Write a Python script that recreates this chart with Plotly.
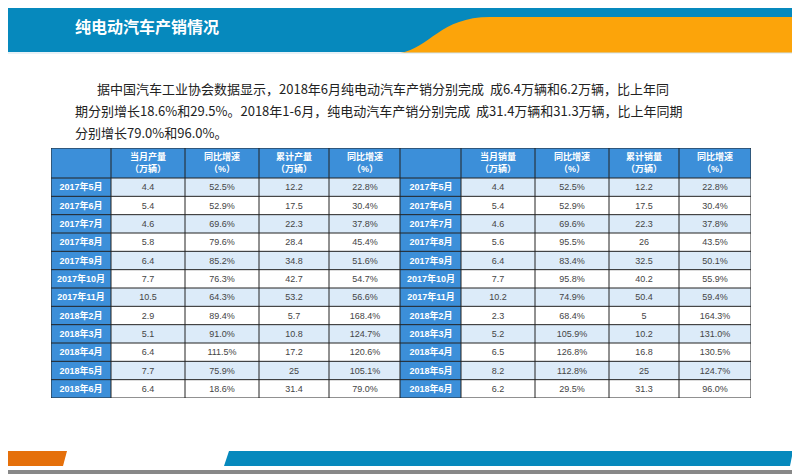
import plotly.graph_objects as go

# table data
months = ['2017年5月', '2017年6月', '2017年7月', '2017年8月', '2017年9月', '2017年10月', '2017年11月',
          '2018年2月', '2018年3月', '2018年4月', '2018年5月', '2018年6月']
prod_month = ['4.4', '5.4', '4.6', '5.8', '6.4', '7.7', '10.5', '2.9', '5.1', '6.4', '7.7', '6.4']
prod_month_yoy = ['52.5%', '52.9%', '69.6%', '79.6%', '85.2%', '76.3%', '64.3%', '89.4%', '91.0%', '111.5%', '75.9%', '18.6%']
prod_cum = ['12.2', '17.5', '22.3', '28.4', '34.8', '42.7', '53.2', '5.7', '10.8', '17.2', '25', '31.4']
prod_cum_yoy = ['22.8%', '30.4%', '37.8%', '45.4%', '51.6%', '54.7%', '56.6%', '168.4%', '124.7%', '120.6%', '105.1%', '79.0%']
sale_month = ['4.4', '5.4', '4.6', '5.6', '6.4', '7.7', '10.2', '2.3', '5.2', '6.5', '8.2', '6.2']
sale_month_yoy = ['52.5%', '52.9%', '69.6%', '95.5%', '83.4%', '95.8%', '74.9%', '68.4%', '105.9%', '126.8%', '112.8%', '29.5%']
sale_cum = ['12.2', '17.5', '22.3', '26', '32.5', '40.2', '50.4', '5', '10.2', '16.8', '25', '31.3']
sale_cum_yoy = ['22.8%', '30.4%', '37.8%', '43.5%', '50.1%', '55.9%', '59.4%', '164.3%', '131.0%', '130.5%', '124.7%', '96.0%']

prod_headers = ['', '当月产量<br>（万辆）', '同比增速<br>（%）', '累计产量<br>（万辆）', '同比增速<br>（%）']
sale_headers = ['', '当月销量<br>（万辆）', '同比增速<br>（%）', '累计销量<br>（万辆）', '同比增速<br>（%）']

W, H = 800, 474
OFF = 8  # page body margin, shift everything back so page pixels match
BLUE = '#3c8fd9'
LIGHT = '#dcebf9'
FONT = 'Liberation Sans, Noto Sans CJK SC'

# table geometry (page pixels)
TOP, HEAD_BOTTOM, BOTTOM = 148, 178, 398
row_h = (BOTTOM - HEAD_BOTTOM) / len(months)
y_edges = [TOP, HEAD_BOTTOM] + [HEAD_BOTTOM + row_h * (i + 1) for i in range(len(months))]

fig = go.Figure()
shapes = []


def add_table(headers, cols, x_edges, n):
    xa, ya = f'x{n}', f'y{n}'
    n_rows = len(months)
    z = [[2] * 5] + [[2] + [1 if i % 2 == 0 else 0] * 4 for i in range(n_rows)]
    text = [[f'<b>{h}</b>' for h in headers]]
    for i in range(n_rows):
        text.append([f'<b>{months[i]}</b>'] + [c[i] for c in cols])
    fig.add_trace(go.Heatmap(
        x=x_edges, y=y_edges, z=z, text=text, texttemplate='%{text}',
        textfont=dict(size=9, family=FONT),
        colorscale=[[0, 'white'], [0.5, LIGHT], [1, BLUE]], zmin=0, zmax=2,
        showscale=False, hoverinfo='skip', xaxis=xa, yaxis=ya,
    ))
    for xe in x_edges:
        shapes.append(dict(type='line', xref=xa, yref=ya, x0=xe, x1=xe, y0=TOP, y1=BOTTOM,
                           line=dict(color='#222222', width=1)))
    for ye in y_edges:
        shapes.append(dict(type='line', xref=xa, yref=ya, x0=x_edges[0], x1=x_edges[-1], y0=ye, y1=ye,
                           line=dict(color='#222222', width=1)))


add_table(prod_headers, [prod_month, prod_month_yoy, prod_cum, prod_cum_yoy],
          [51, 111, 185, 259, 329, 400], 2)
add_table(sale_headers, [sale_month, sale_month_yoy, sale_cum, sale_cum_yoy],
          [400, 461, 535, 609, 679, 751], 3)

shapes += [
    dict(type='rect', x0=0, x1=810, y0=0, y1=52, fillcolor='#0689bd', line_width=0),
    dict(type='path', path='M 400,53 C 430,48 440,17 490,17 L 810,17 L 810,53 Z', fillcolor='#fca40a', line_width=0),
    dict(type='line', x0=0, x1=810, y0=53, y1=53, line=dict(color='#cfe3ee', width=1)),
    dict(type='path', path='M 6,451 L 67,451 L 63,466 L 3,466 Z', fillcolor='#e5700b', line_width=0),
    dict(type='path', path='M 229,451 L 793,451 L 790,466 L 224,466 Z', fillcolor='#0689bd', line_width=0),
    dict(type='rect', x0=0, x1=810, y0=470, y1=484, fillcolor='#888888', line_width=0),
]

para = ['据中国汽车工业协会数据显示，2018年6月纯电动汽车产销分别完成  成6.4万辆和6.2万辆，比上年同',
        '期分别增长18.6%和29.5%。2018年1-6月，纯电动汽车产销分别完成  成31.4万辆和31.3万辆，比上年同期',
        '分别增长79.0%和96.0%。']
para_x = [95, 73, 73]
para_y = [88, 110, 132]
ann = [dict(x=px_, y=py_, text=t, xref='x', yref='y', xanchor='left', yanchor='middle', showarrow=False,
            font=dict(size=13, color='#222222', family='Noto Sans CJK SC'))
       for t, px_, py_ in zip(para, para_x, para_y)]
ann.append(dict(x=73, y=26, text='<b>纯电动汽车产销情况</b>', xref='x', yref='y', xanchor='left', yanchor='middle',
                showarrow=False, font=dict(size=16, color='white', family='Noto Sans CJK SC')))

hidden = dict(visible=False, fixedrange=True)
fig.update_layout(
    width=W, height=H, margin=dict(l=0, r=0, t=0, b=0),
    paper_bgcolor='white', plot_bgcolor='rgba(0,0,0,0)', showlegend=False,
    xaxis=dict(range=[OFF, W + OFF], domain=[0, 1], **hidden),
    yaxis=dict(range=[H + OFF, OFF], domain=[0, 1], **hidden),
    xaxis2=dict(range=[51, 400], domain=[(51 - OFF) / W, (400 - OFF) / W], anchor='y2', **hidden),
    yaxis2=dict(range=[BOTTOM, TOP], domain=[1 - (BOTTOM - OFF) / H, 1 - (TOP - OFF) / H], anchor='x2', **hidden),
    xaxis3=dict(range=[400, 751], domain=[(400 - OFF) / W, (751 - OFF) / W], anchor='y3', **hidden),
    yaxis3=dict(range=[BOTTOM, TOP], domain=[1 - (BOTTOM - OFF) / H, 1 - (TOP - OFF) / H], anchor='x3', **hidden),
    shapes=shapes, annotations=ann,
)
fig.write_html('out.html')
